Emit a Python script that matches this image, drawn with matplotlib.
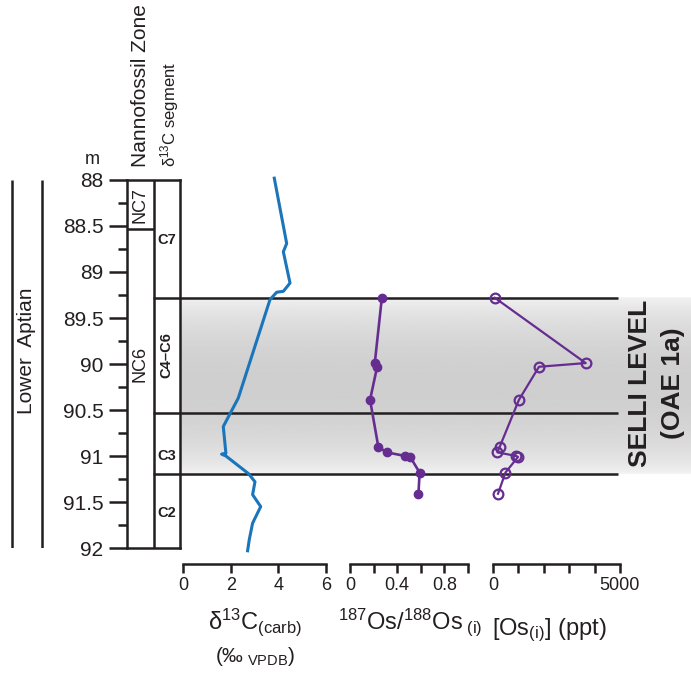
import numpy as np
import matplotlib
matplotlib.use("Agg")
import matplotlib.pyplot as plt
from matplotlib.ticker import MultipleLocator, FixedLocator, FuncFormatter

plt.rcParams['font.family'] = ['Liberation Sans', 'DejaVu Sans']
plt.rcParams['mathtext.fontset'] = 'custom'
plt.rcParams['mathtext.rm'] = 'Liberation Sans'
plt.rcParams['mathtext.it'] = 'Liberation Sans:italic'
plt.rcParams['mathtext.bf'] = 'Liberation Sans:bold'

# ---- data ----
d13c_depth = [87.98, 88.69, 88.78, 89.12, 89.21, 89.22, 89.30, 90.37, 90.68,
              90.97, 90.98, 91.00, 91.19, 91.28, 91.42, 91.55, 91.73, 91.91, 92.03]
d13c_value = [3.83, 4.35, 4.21, 4.49, 4.21, 3.93, 3.65, 2.32, 1.69,
              1.80, 1.62, 1.80, 2.74, 3.02, 2.92, 3.26, 2.92, 2.78, 2.71]

os_depth = [89.28, 89.99, 90.03, 90.39, 90.90, 90.96, 91.00, 91.01, 91.18, 91.41]
os_ratio = [0.27, 0.21, 0.23, 0.17, 0.24, 0.31, 0.47, 0.51, 0.59, 0.58]
os_conc = [70, 3650, 1810, 1020, 265, 170, 920, 985, 490, 197]

nanno_zones = ["NC7", "NC6"]
nanno_bounds = [88.0, 88.53, 92.0]
nanno_label_depth = [88.27, 90.0]

segments = ["C7", "C4–C6", "C3", "C2"]
segment_bounds = [88.0, 89.28, 90.53, 91.2, 92.0]
segment_label_depth = [88.65, 89.9, 91.0, 91.62]

selli_top, selli_base = 89.28, 91.2

# ---- layout helpers (pixels) ----
W, H = 691, 675
fig = plt.figure(figsize=(W / 100, H / 100), dpi=100)


def px_axes(x0, y0, x1, y1):
    return fig.add_axes([x0 / W, 1 - y1 / H, (x1 - x0) / W, (y1 - y0) / H])


def ftext(x, y, s, **kw):
    return fig.text(x / W, 1 - y / H, s, **kw)


ink = '#231f20'
blue = '#1b75bb'
purple = '#662d91'
lw_ink = 1.8

# background: shaded Selli level, long boundary lines, stage bar
ax_bg = px_axes(0, 180, 691, 548)
ax_bg.set_xlim(0, 691)
ax_bg.set_ylim(92, 88)
ax_bg.axis('off')

t = np.linspace(0, 1, 200)
shade = 0.96 - 0.15 * np.sin(np.pi * t) ** 0.6
ax_bg.imshow(shade[:, None], cmap='gray', vmin=0, vmax=1, aspect='auto',
             origin='lower', extent=(181, 691, selli_top, selli_base),
             interpolation='bilinear')
ax_bg.hlines(segment_bounds[1:-1], 153, 618, color=ink, lw=lw_ink)
ax_bg.vlines([12, 42], 88, 92, color=ink, lw=lw_ink)
ax_bg.text(27, 89.86, "Lower  Aptian", rotation=90, ha='center', va='center',
           fontsize=15, color=ink)
ax_bg.text(640, 90.21, "SELLI LEVEL", rotation=90, ha='center', va='center',
           fontsize=19, fontweight='bold', color=ink)
ax_bg.text(673, 90.21, "(OAE 1a)", rotation=90, ha='center', va='center',
           fontsize=19, fontweight='bold', color=ink)

# zone columns with depth scale
ax_col = px_axes(127, 180, 180, 548)
ax_col.set_xlim(0, 2)
ax_col.set_ylim(92, 88)
ax_col.patch.set_visible(False)
for sp in ax_col.spines.values():
    sp.set_linewidth(lw_ink)
    sp.set_color(ink)
ax_col.axvline(1, color=ink, lw=lw_ink)
ax_col.hlines(nanno_bounds[1:-1], 0, 1, color=ink, lw=lw_ink)
for name, d in zip(nanno_zones, nanno_label_depth):
    ax_col.text(0.5, d, name, rotation=90, ha='center', va='center',
                fontsize=13, color=ink)
for name, d in zip(segments, segment_label_depth):
    rot = 90 if len(name) > 2 else 0
    ax_col.text(1.5, d, name, rotation=rot, ha='center', va='center',
                fontsize=10.5, fontweight='bold', color=ink,
                family=['Liberation Sans Narrow', 'Liberation Sans'])
ax_col.set_xticks([])
ax_col.yaxis.set_major_locator(MultipleLocator(0.5))
ax_col.yaxis.set_minor_locator(MultipleLocator(0.25))
ax_col.yaxis.set_major_formatter(FuncFormatter(lambda v, p: f'{v:g}'))
ax_col.tick_params(axis='y', which='major', length=13, width=lw_ink, pad=4,
                   labelsize=15, colors=ink)
ax_col.tick_params(axis='y', which='minor', length=6.5, width=lw_ink, colors=ink)

ftext(92, 160, "m", ha='center', va='center', fontsize=13, color=ink)
ftext(140, 167, "Nannofossil Zone", rotation=90, ha='center', va='bottom',
      fontsize=15, color=ink)
ftext(170, 167, "δ$^{13}$C segment", rotation=90, ha='center', va='bottom',
      fontsize=12, color=ink)


# data panels
def data_axes(x0, x1, xlim, ticks, labels):
    ax = px_axes(x0, 180, x1, 548)
    ax.set_xlim(*xlim)
    ax.set_ylim(92, 88)
    ax.patch.set_visible(False)
    for side in ['top', 'left', 'right']:
        ax.spines[side].set_visible(False)
    ax.spines['bottom'].set_position(('outward', 11.5))
    ax.spines['bottom'].set_linewidth(lw_ink)
    ax.spines['bottom'].set_color(ink)
    ax.set_yticks([])
    ax.xaxis.set_major_locator(FixedLocator(ticks))
    ax.set_xticklabels(labels)
    ax.tick_params(axis='x', length=6.5, width=lw_ink, pad=3, labelsize=13,
                   colors=ink)
    return ax


ax_c = data_axes(183, 326, (0, 6), [0, 2, 4, 6], ['0', '2', '4', '6'])
ax_c.plot(d13c_value, d13c_depth, color=blue, lw=2.2, clip_on=False)

ax_r = data_axes(350, 468, (0, 1), [0, 0.2, 0.4, 0.6, 0.8, 1.0],
                 ['0', '', '0.4', '', '0.8', ''])
ax_r.plot(os_ratio, os_depth, '-o', color=purple, lw=1.9, ms=6, clip_on=False)

ax_k = data_axes(493, 620, (0, 5000), [0, 1000, 2000, 3000, 4000, 5000],
                 ['0', '', '', '', '', '5000'])
ax_k.plot(os_conc, os_depth, '-o', color=purple, lw=1.6, ms=7,
          mfc='none', mec=purple, mew=1.6, clip_on=False)

# axis titles
ftext(255, 622, r"δ$^{13}$C$_{\rm (carb)}$", ha='center', va='center',
      fontsize=17, color=ink)
ftext(255, 656, r"(‰$_{\rm\ VPDB}$)", ha='center', va='center',
      fontsize=15, color=ink)
ftext(410, 622, r"$^{187}$Os/$^{188}$Os$_{\rm\ (i)}$", ha='center', va='center',
      fontsize=17, color=ink)
ftext(549, 630, r"[Os$_{\rm (i)}$] (ppt)", ha='center', va='center',
      fontsize=17, color=ink)

fig.savefig("out.png", dpi=100)
